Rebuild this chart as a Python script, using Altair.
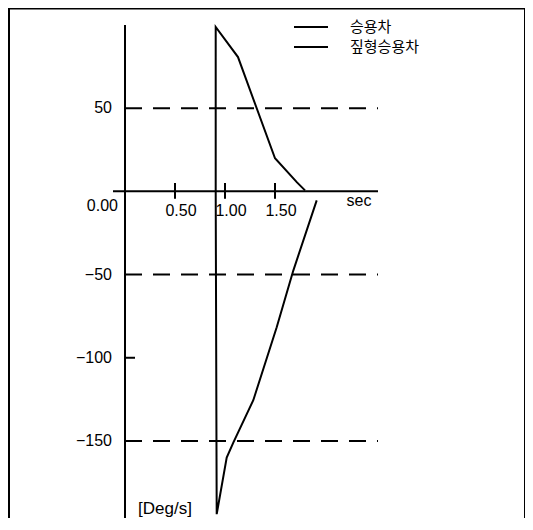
import altair as alt
import pandas as pd

# ---- data ----
series_names = ["승용차", "짚형승용차"]
car_t = [0.907, 0.907, 1.13, 1.50, 1.72, 1.80]
car_v = [0.0, 98.8, 80.7, 19.9, 5.4, 0.6]
jeep_t = [0.907, 0.917, 1.017, 1.083, 1.283, 1.517, 1.683, 1.917]
jeep_v = [0.0, -194.0, -160.0, -151.0, -125.5, -81.7, -47.6, -5.4]

x_tick_values = [0.5, 1.0, 1.5]
x_tick_labels = ["0.50", "1.00", "1.50"]
y_label_values = [50, -50, -100, -150]
y_label_texts = ["50", "\u221250", "\u2212100", "\u2212150"]
dashed_levels = [50, -50, -150]
x_axis_extent = [-0.12, 2.53]
y_axis_extent = [-200, 100]
y_minor_ticks = [-100]

rows = []
for i, (t, v) in enumerate(zip(car_t, car_v)):
    rows.append({"series": series_names[0], "t": t, "v": v, "i": i})
for i, (t, v) in enumerate(zip(jeep_t, jeep_v)):
    rows.append({"series": series_names[1], "t": t, "v": v, "i": i})
lines_df = pd.DataFrame(rows)

W, H = 517, 510
# 100 px per second, ~1.664 px per deg/s
xs = alt.Scale(domain=[-1.17, 4.00], nice=False, zero=False)
ys = alt.Scale(domain=[-196.3, 110.2], nice=False, zero=False)

FONT = "Liberation Sans"

frame_axis = dict(domain=True, domainColor="black", domainWidth=3, ticks=False,
                  labels=False, grid=False, title=None)


def X(field, axis=None):
    return alt.X(field, type="quantitative", scale=xs, axis=axis)


def Y(field, axis=None):
    return alt.Y(field, type="quantitative", scale=ys, axis=axis)


lines = alt.Chart(lines_df).mark_line(strokeWidth=2).encode(
    x=X("t"),
    y=Y("v", alt.Axis(orient="left", **frame_axis)),
    color=alt.Color(
        "series:N",
        scale=alt.Scale(domain=series_names, range=["black", "black"]),
        legend=alt.Legend(
            orient="none", legendX=285, legendY=9, title=None,
            symbolType="stroke", symbolSize=1156, symbolStrokeWidth=2,
            labelFont="Noto Sans CJK KR", labelFontSize=15, labelColor="black",
            labelOffset=21, rowPadding=0, clipHeight=20, padding=0,
        ),
    ),
    order="i:Q",
)

dash_df = pd.DataFrame({"level": dashed_levels, "x0": 0.0, "x1": x_axis_extent[1]})
dashed = alt.Chart(dash_df).mark_rule(strokeDash=[17, 11], strokeWidth=2, color="black").encode(
    x=X("x0"), x2="x1:Q", y=Y("level", alt.Axis(orient="right", **frame_axis))
)

# top edge of the frame
top_edge = alt.Chart(pd.DataFrame({"k": [0]})).mark_rule(strokeWidth=3, color="black").encode(
    x=alt.value(0), x2=alt.value(W), y=alt.value(0)
)

axes_df = pd.DataFrame([
    {"x": x_axis_extent[0], "x2": x_axis_extent[1], "y": 0, "y2": 0},
    {"x": 0, "x2": 0, "y": y_axis_extent[0], "y2": y_axis_extent[1]},
])
axis_lines = alt.Chart(axes_df).mark_rule(strokeWidth=2, color="black").encode(
    x=X("x"), x2="x2:Q", y=Y("y"), y2="y2:Q",
)

xt_df = pd.DataFrame({"t": x_tick_values, "lab": x_tick_labels, "lo": -4.5, "hi": 5.0, "zero": 0.0})
x_ticks = alt.Chart(xt_df).mark_rule(strokeWidth=2, color="black").encode(
    x=X("t"), y=Y("lo"), y2="hi:Q"
)
x_tick_text = alt.Chart(xt_df).mark_text(
    font=FONT, fontSize=16, align="center", baseline="middle", dx=6, dy=20, color="black"
).encode(x=X("t"), y=Y("zero"), text="lab:N")

zero_df = pd.DataFrame({"t": [0.0], "v": [0.0], "lab": ["0.00"]})
zero_text = alt.Chart(zero_df).mark_text(
    font=FONT, fontSize=16, align="right", baseline="middle", dx=-7, dy=15, color="black"
).encode(x=X("t"), y=Y("v"), text="lab:N")

yl_df = pd.DataFrame({"v": y_label_values, "lab": y_label_texts, "zero": 0.0})
y_text = alt.Chart(yl_df).mark_text(
    font=FONT, fontSize=16, align="right", baseline="middle", dx=-13, color="black"
).encode(x=X("zero"), y=Y("v"), text="lab:N")

ymt_df = pd.DataFrame({"v": y_minor_ticks, "x0": 0.0, "x1": 0.1})
y_ticks = alt.Chart(ymt_df).mark_rule(strokeWidth=2, color="black").encode(
    x=X("x0"), x2="x1:Q", y=Y("v")
)

sec_df = pd.DataFrame([{"t": 2.34, "v": -6.0, "lab": "sec"}])
sec_text = alt.Chart(sec_df).mark_text(
    font=FONT, fontSize=16, align="center", baseline="middle", color="black"
).encode(x=X("t"), y=Y("v"), text="lab:N")

deg_df = pd.DataFrame([{"t": 0.13, "v": -191.0, "lab": "[Deg/s]"}])
deg_text = alt.Chart(deg_df).mark_text(
    font=FONT, fontSize=17, align="left", baseline="middle", color="black"
).encode(x=X("t"), y=Y("v"), text="lab:N")

chart = alt.layer(
    top_edge, dashed, axis_lines, x_ticks, y_ticks, lines, x_tick_text, zero_text, y_text,
    sec_text, deg_text
).resolve_axis(y="independent").properties(
    width=W, height=H, padding=0, autosize="none", background="white"
).configure_view(stroke=None)

chart.save("out.html", embed_options={"renderer": "svg", "actions": False})
